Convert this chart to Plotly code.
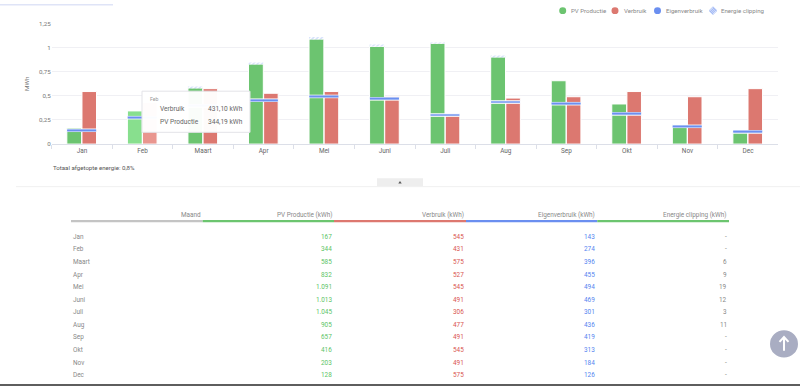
import plotly.graph_objects as go

W, H = 800, 390

months = ["Jan", "Feb", "Maart", "Apr", "Mei", "Juni", "Juli", "Aug", "Sep", "Okt", "Nov", "Dec"]
pv_kwh = [167, 344, 585, 832, 1091, 1013, 1045, 905, 657, 416, 203, 128]
verbruik_kwh = [545, 431, 575, 527, 545, 491, 306, 477, 491, 545, 491, 575]
eigen_kwh = [143, 274, 396, 455, 494, 469, 301, 436, 419, 313, 184, 126]
clipping_kwh = [None, None, 6, 9, 19, 12, 3, 11, None, None, None, None]
y_ticks = [0, 0.25, 0.5, 0.75, 1, 1.25]
y_ticktext = ["0", "0,25", "0,5", "0,75", "1", "1,25"]
total_clipping_text = "Totaal afgetopte energie: 0,8%"
tooltip_month = "Feb"
tooltip_rows = [("Verbruik", "431,10 kWh"), ("PV Productie", "344,19 kWh")]
hover_index = 1

GREEN = "#6cc470"
GREEN_L = "#88df8e"
RED = "#dc7870"
RED_L = "#e9968f"
BLUE = "#6b8ff0"
BLUE_L = "#a8bff5"
FONT = "Roboto"


def px(x):
    return x / W


def py(y):
    return 1 - y / H


pv = [v / 1000 for v in pv_kwh]
vb = [v / 1000 for v in verbruik_kwh]
eg = [v / 1000 for v in eigen_kwh]
cl = [(v or 0) / 1000 for v in clipping_kwh]

gcol = [GREEN_L if i == hover_index else GREEN for i in range(12)]
rcol = [RED_L if i == hover_index else RED for i in range(12)]

fig = go.Figure()
white = dict(color="white", width=1)
fig.add_trace(go.Bar(x=months, y=pv, offset=-0.25, width=0.245, hoverinfo="skip",
                     marker=dict(color=gcol, line=white), name="PV Productie"))
fig.add_trace(go.Bar(x=months, y=cl, base=pv, offset=-0.25, width=0.245, hoverinfo="skip",
                     marker=dict(color="white", line=dict(width=0),
                                 pattern=dict(shape="/", fgcolor=BLUE_L, bgcolor="white", size=3, solidity=0.5)),
                     name="Energie clipping"))
fig.add_trace(go.Bar(x=months, y=vb, offset=0.0, width=0.24, hoverinfo="skip",
                     marker=dict(color=rcol, line=white), name="Verbruik"))
stripe = 0.026
fig.add_trace(go.Bar(x=months, y=[stripe] * 12, base=[e - stripe / 2 for e in eg],
                     offset=-0.25, width=0.49, hoverinfo="skip",
                     marker=dict(color=BLUE_L, line=white), name="Eigenverbruik"))
core = 0.008
fig.add_trace(go.Bar(x=months, y=[core] * 12, base=[e - core / 2 for e in eg],
                     offset=-0.245, width=0.48, hoverinfo="skip",
                     marker=dict(color=BLUE, line=dict(width=0)), name="Eigenverbruik lijn"))

x0p, x1p = 51.7, 778.3
fig.update_layout(
    width=W, height=H,
    margin=dict(l=0, r=0, t=0, b=0),
    paper_bgcolor="white", plot_bgcolor="white",
    barmode="overlay", showlegend=False, hovermode=False,
    font=dict(family=FONT, color="#777", size=6.3),
    xaxis=dict(domain=[px(x0p), px(x1p)], anchor="y", showgrid=False, fixedrange=True,
               showline=True, linecolor="#dcdfe8", linewidth=1,
               ticks="outside", tickson="boundaries", ticklen=4, tickcolor="#dcdfe8",
               tickfont=dict(size=6.4, color="#666")),
    yaxis=dict(domain=[py(143), py(20)], range=[0, 1.25], tickvals=y_ticks, ticktext=y_ticktext,
               showgrid=True, gridcolor="#f0f0f4", gridwidth=1, zeroline=False, fixedrange=True,
               ticks="", tickfont=dict(size=6.2, color="#777"),
               title=dict(text="MWh", font=dict(size=6.2, color="#777"), standoff=8)),
)

shapes = []
ann = []

# top-left tab indicator
shapes.append(dict(type="rect", xref="paper", yref="paper", x0=0, x1=px(113), y0=py(1.5), y1=py(0),
                   fillcolor="#dfe4f7", line=dict(width=0)))

# legend
leg = [(562.7, GREEN, "PV Productie", 569), (615, RED, "Verbruik", 622), (657.5, BLUE, "Eigenverbruik", 664)]
for cx, c, t, tx in leg:
    shapes.append(dict(type="circle", xref="paper", yref="paper",
                       x0=px(cx - 3.5), x1=px(cx + 3.5), y0=py(6.8 + 3.5), y1=py(6.8 - 3.5),
                       fillcolor=c, line=dict(width=0)))
    ann.append(dict(x=px(tx), y=py(7), xref="paper", yref="paper", text=t, showarrow=False,
                    xanchor="left", yanchor="middle", font=dict(size=6.1, color="#888")))
dx, dy = 713, 6.8
shapes.append(dict(type="path", xref="paper", yref="paper",
                   path=f"M {px(dx)},{py(dy-4)} L {px(dx+4)},{py(dy)} L {px(dx)},{py(dy+4)} L {px(dx-4)},{py(dy)} Z",
                   fillcolor="#eef2fd", line=dict(color=BLUE_L, width=0.8)))
for k in (-2, 0, 2):
    shapes.append(dict(type="line", xref="paper", yref="paper",
                       x0=px(dx - 2 + k / 2), y0=py(dy + 2 + k / 2), x1=px(dx + 2 + k / 2), y1=py(dy - 2 + k / 2),
                       line=dict(color=BLUE, width=0.8)))
ann.append(dict(x=px(719), y=py(7), xref="paper", yref="paper", text="Energie clipping", showarrow=False,
                xanchor="left", yanchor="middle", font=dict(size=6.1, color="#888")))

# tooltip
shapes.append(dict(type="rect", xref="paper", yref="paper", x0=px(142), x1=px(250), y0=py(131), y1=py(89),
                   fillcolor="rgba(255,255,255,0.97)", line=dict(color="#e3e3e8", width=1), layer="above"))
ann.append(dict(x=px(148), y=py(97), xref="paper", yref="paper", text=tooltip_month, showarrow=False,
                xanchor="left", yanchor="middle", font=dict(size=5.2, color="#999")))
for i, (lab, val) in enumerate(tooltip_rows):
    yy = 107.5 + i * 12.5
    ann.append(dict(x=px(158), y=py(yy), xref="paper", yref="paper", text=lab, showarrow=False,
                    xanchor="left", yanchor="middle", font=dict(size=6.6, color="#666")))
    ann.append(dict(x=px(206), y=py(yy), xref="paper", yref="paper", text=val, showarrow=False,
                    xanchor="left", yanchor="middle", font=dict(size=6.6, color="#666")))

# total clipping text
ann.append(dict(x=px(51), y=py(167), xref="paper", yref="paper", text=total_clipping_text, showarrow=False,
                xanchor="left", yanchor="middle", font=dict(size=6.1, color="#555")))

# divider and collapse button
shapes.append(dict(type="line", xref="paper", yref="paper", x0=px(16), x1=px(800), y0=py(186.5), y1=py(186.5),
                   line=dict(color="#f0f0f0", width=1)))
shapes.append(dict(type="rect", xref="paper", yref="paper", x0=px(377), x1=px(423), y0=py(186), y1=py(178),
                   fillcolor="#eeeeee", line=dict(width=0)))
shapes.append(dict(type="path", xref="paper", yref="paper",
                   path=f"M {px(398.3)},{py(183.2)} L {px(401.7)},{py(183.2)} L {px(400)},{py(180.8)} Z",
                   fillcolor="#555", line=dict(width=0)))

# table
headers = ["Maand", "PV Productie (kWh)", "Verbruik (kWh)", "Eigenverbruik (kWh)", "Energie clipping (kWh)"]
col_edges = [71, 202.7, 334, 466, 597.3, 729]
col_colors = ["#c4c4c4", "#6cc56f", "#dd7870", "#6b8ff0", "#6cc56f"]
for j, h in enumerate(headers):
    ann.append(dict(x=px(col_edges[j + 1]), y=py(215.5), xref="paper", yref="paper", text=h, showarrow=False,
                    xanchor="right", yanchor="middle", font=dict(size=6.4, color="#888")))
    shapes.append(dict(type="line", xref="paper", yref="paper", x0=px(col_edges[j]), x1=px(col_edges[j + 1]),
                       y0=py(221.7), y1=py(221.7), line=dict(color=col_colors[j], width=2.2)))

val_colors = ["#5cc466", "#d9554f", "#5585f0", "#888"]
for i, m in enumerate(months):
    yy = 237.7 + i * (379 - 237.7) / 11
    ann.append(dict(x=px(71), y=py(yy), xref="paper", yref="paper", text=m, showarrow=False,
                    xanchor="left", yanchor="middle", font=dict(size=6.4, color="#888")))
    vals = [pv_kwh[i], verbruik_kwh[i], eigen_kwh[i], clipping_kwh[i]]
    for j, v in enumerate(vals):
        if v is None:
            txt = "-"
        else:
            txt = f"{v:,}".replace(",", ".")
        ann.append(dict(x=px(col_edges[j + 2]), y=py(yy), xref="paper", yref="paper", text=txt, showarrow=False,
                        xanchor="right", yanchor="middle", font=dict(size=6.4, color=val_colors[j])))

# scroll-to-top button
shapes.append(dict(type="circle", xref="paper", yref="paper", x0=px(770), x1=px(798), y0=py(361), y1=py(333),
                   fillcolor="#a9adc2", line=dict(width=0)))
shapes.append(dict(type="line", xref="paper", yref="paper", x0=px(784), x1=px(784), y0=py(354), y1=py(340.5),
                   line=dict(color="white", width=2)))
shapes.append(dict(type="path", xref="paper", yref="paper",
                   path=f"M {px(779.5)},{py(345)} L {px(784)},{py(340)} L {px(788.5)},{py(345)}",
                   line=dict(color="white", width=2)))

# bottom border
shapes.append(dict(type="line", xref="paper", yref="paper", x0=0, x1=1, y0=py(389), y1=py(389),
                   line=dict(color="#5e5e5e", width=2)))

fig.update_layout(shapes=shapes, annotations=ann, separators=",.")
fig.write_html("out.html", config={"displayModeBar": False, "staticPlot": False},
               post_script="document.body.style.margin='0';document.body.style.overflow='hidden';")
